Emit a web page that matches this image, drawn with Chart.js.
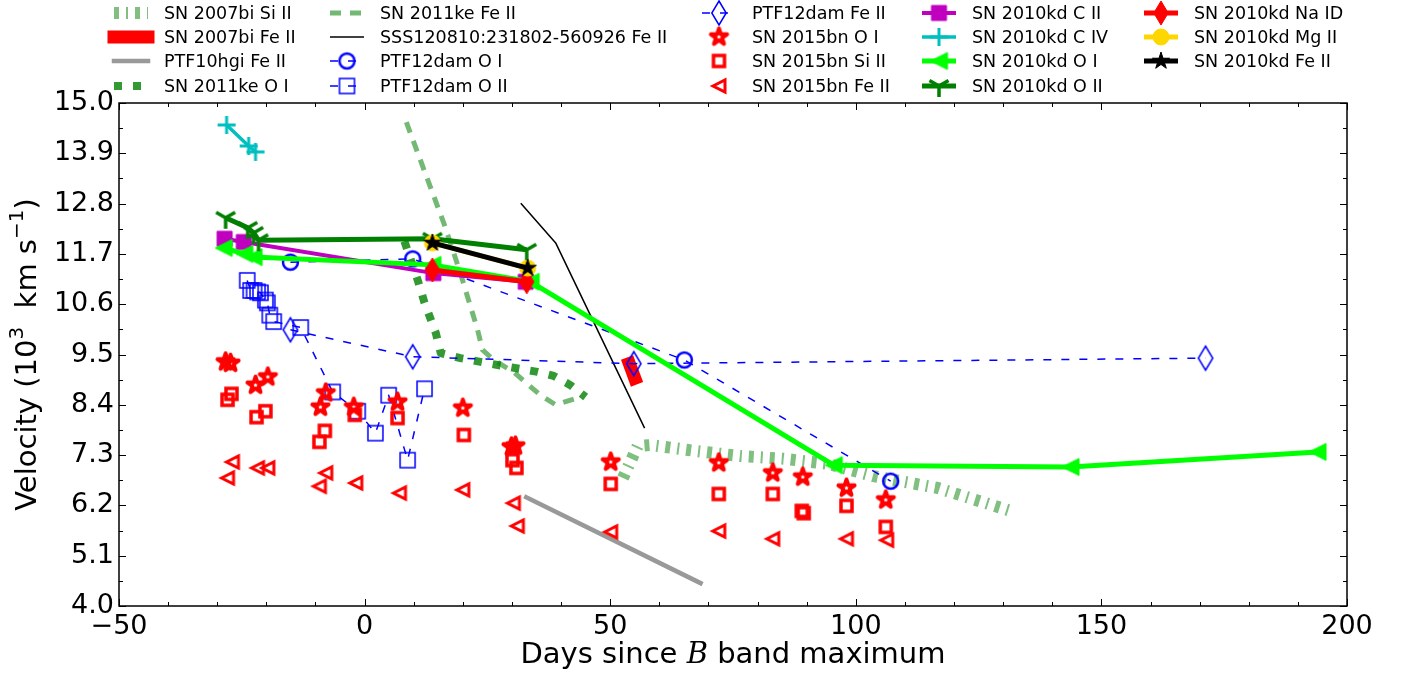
<!DOCTYPE html>
<html>
<head>
<meta charset="utf-8">
<script src="https://cdn.jsdelivr.net/npm/chart.js@4.4.0/dist/chart.umd.min.js"></script>
<style>
  html, body { margin: 0; padding: 0; background: #fff; }
</style>
</head>
<body>
<canvas id="c" width="1412" height="674"></canvas>
<script>
// Axes
const xTicks = [-50, 0, 50, 100, 150, 200];
const yTicks = [4.0, 5.1, 6.2, 7.3, 8.4, 9.5, 10.6, 11.7, 12.8, 13.9, 15.0];

// Data (days since B max, velocity in 10^3 km/s)
const sn07biSiDays = [52.6, 55.6, 58.2, 67.4, 76.5, 85.3, 94.3, 103.6, 116.7, 132.1];
const sn07biSiVel  = [6.80, 7.50, 7.52, 7.39, 7.28, 7.22, 7.11, 6.84, 6.58, 6.06];

const sn07biFeDays = [53.9, 55.0];
const sn07biFeVel  = [9.30, 8.98];

const ptf10hgiDays = [32.9, 68.4];
const ptf10hgiVel  = [6.38, 4.50];

const sn11keOIDays = [8.1, 10.8, 12.2, 14.5, 15.5, 19.5, 27.1, 35.2, 38.5, 41.9, 45.0];
const sn11keOIVel  = [11.98, 11.13, 10.63, 9.97, 9.53, 9.42, 9.27, 9.12, 9.03, 8.83, 8.57];

const sn11keFeDays = [8.5, 13.4, 16.1, 19.5, 23.0, 24.0, 26.3, 30.3, 35.8, 38.9, 43.4];
const sn11keFeVel  = [14.58, 13.16, 12.38, 11.28, 10.04, 9.60, 9.38, 9.12, 8.61, 8.40, 8.55];

const sssDays = [31.8, 38.9, 57.0];
const sssVel  = [12.81, 11.94, 7.89];

const ptf12OIDays = [-15.1, 9.8, 65.1, 107.1];
const ptf12OIVel  = [11.52, 11.59, 9.38, 6.73];

const ptf12OIIDays = [-23.9, -23.2, -22.5, -21.8, -21.2, -20.2, -19.8, -19.3, -18.5, -13.0, -6.5, -1.4, 2.2, 4.9, 8.75, 12.2];
const ptf12OIIVel  = [11.12, 10.90, 10.90, 10.87, 10.85, 10.69, 10.63, 10.36, 10.22, 10.09, 8.68, 8.26, 7.78, 8.61, 7.19, 8.75];

const ptf12FeDays = [-15.1, 9.8, 54.8, 171.2];
const ptf12FeVel  = [10.04, 9.45, 9.30, 9.42];

const bnOIDays = [-28.3, -27.3, -22.2, -19.7, -9.0, -7.9, -2.2, 6.7, 20.0, 29.9, 30.7, 50.1, 72.1, 83.1, 89.2, 98.1, 106.1];
const bnOIVel  = [9.34, 9.31, 8.83, 9.01, 8.35, 8.66, 8.35, 8.46, 8.33, 7.48, 7.50, 7.15, 7.13, 6.91, 6.82, 6.58, 6.32];

const bnSiDays = [-27.9, -27.1, -22.0, -20.2, -9.2, -8.1, -2.0, 6.7, 20.2, 30.1, 30.9, 50.1, 72.1, 83.1, 89.0, 89.4, 98.1, 106.1];
const bnSiVel  = [8.51, 8.64, 8.13, 8.26, 7.59, 7.83, 8.18, 8.11, 7.74, 7.19, 7.02, 6.67, 6.45, 6.45, 6.08, 6.03, 6.19, 5.73];

const bnFeDays = [-26.9, -27.9, -21.8, -19.7, -7.9, -9.2, -1.8, 7.1, 20.0, 30.3, 31.1, 50.1, 72.1, 83.1, 98.1, 106.3];
const bnFeVel  = [7.15, 6.80, 7.02, 7.02, 6.91, 6.62, 6.69, 6.47, 6.54, 6.25, 5.75, 5.62, 5.64, 5.47, 5.47, 5.44];

const kdCIIDays = [-28.5, -24.6, 14.0, 32.8];
const kdCIIVel  = [12.03, 11.96, 11.28, 11.09];

const kdCIVDays = [-28.1, -23.6, -22.2];
const kdCIVVel  = [14.52, 14.06, 13.93];

const kdOIDays = [-28.7, -24.5, -22.6, 13.8, 33.8, 95.5, 143.7, 194.0];
const kdOIVel  = [11.83, 11.70, 11.63, 11.46, 11.09, 7.08, 7.04, 7.37];

const kdOIIDays = [-28.3, -23.8, -22.6, -21.6, 13.8, 33.0];
const kdOIIVel  = [12.49, 12.27, 12.16, 12.00, 12.03, 11.79];

const kdNaDays = [13.8, 33.0];
const kdNaVel  = [11.35, 11.09];

const kdMgDays = [13.8, 33.2];
const kdMgVel  = [11.94, 11.39];

const kdFeDays = [13.8, 33.2];
const kdFeVel  = [11.94, 11.39];

// helpers
const pts = (xs, ys) => xs.map((x, i) => ({ x: x, y: ys[i] }));

// marker images, matplotlib-like shapes
function mk(shape, h, fill, stroke, lw, join) {
  const pad = Math.ceil(lw) + 2;
  const s = Math.ceil(2 * h + 2 * pad);
  const cv = document.createElement('canvas');
  cv.width = s; cv.height = s;
  const g = cv.getContext('2d');
  g.translate(s / 2, s / 2);
  g.lineWidth = lw;
  g.strokeStyle = stroke;
  g.fillStyle = fill;
  g.lineJoin = join || 'miter';
  g.beginPath();
  if (shape === 'circle') {
    g.arc(0, 0, h, 0, Math.PI * 2);
  } else if (shape === 'square') {
    g.rect(-h, -h, 2 * h, 2 * h);
  } else if (shape === 'diamond') {
    g.moveTo(0, -h); g.lineTo(0.6 * h, 0); g.lineTo(0, h); g.lineTo(-0.6 * h, 0); g.closePath();
  } else if (shape === 'star') {
    for (let k = 0; k < 10; k++) {
      const r = k % 2 === 0 ? h : h * 0.382;
      const a = -Math.PI / 2 + k * Math.PI / 5;
      const px = r * Math.cos(a), py = r * Math.sin(a);
      if (k === 0) g.moveTo(px, py); else g.lineTo(px, py);
    }
    g.closePath();
  } else if (shape === 'tleft') {
    g.moveTo(-h, 0); g.lineTo(h, -h); g.lineTo(h, h); g.closePath();
  } else if (shape === 'plus') {
    g.moveTo(-h, 0); g.lineTo(h, 0); g.moveTo(0, -h); g.lineTo(0, h);
  } else if (shape === 'tridown') {
    g.moveTo(0, 0); g.lineTo(0, h);
    g.moveTo(0, 0); g.lineTo(-0.866 * h, -0.5 * h);
    g.moveTo(0, 0); g.lineTo(0.866 * h, -0.5 * h);
  }
  if (fill !== 'none') g.fill();
  if (lw > 0) g.stroke();
  return cv;
}

const GREEN50 = 'rgba(0,128,0,0.5)';
const GREEN55 = 'rgba(0,128,0,0.55)';
const GREEN80 = 'rgba(0,128,0,0.8)';

function series(label, xs, ys, o) {
  return Object.assign({
    label: label,
    data: pts(xs, ys),
    showLine: true,
    borderColor: '#000',
    borderWidth: 2,
    borderDash: [],
    borderCapStyle: 'butt',
    borderJoinStyle: 'round',
    pointRadius: 0,
    pointHoverRadius: 0,
    fill: false,
    tension: 0
  }, o);
}

function withMarker(img) {
  return { pointStyle: img, pointRadius: 6, pointHoverRadius: 6 };
}

const datasets = [
  series('SN 2007bi Si II', sn07biSiDays, sn07biSiVel, { borderColor: GREEN50, borderWidth: 12, borderDash: [5, 7, 2, 7] }),
  series('SN 2007bi Fe II', sn07biFeDays, sn07biFeVel, { borderColor: '#ff0000', borderWidth: 13, borderCapStyle: 'square' }),
  series('PTF10hgi Fe II', ptf10hgiDays, ptf10hgiVel, { borderColor: '#999999', borderWidth: 4.5, borderCapStyle: 'square' }),
  series('SN 2011ke O I', sn11keOIDays, sn11keOIVel, { borderColor: GREEN80, borderWidth: 8, borderDash: [8, 11] }),
  series('SN 2011ke Fe II', sn11keFeDays, sn11keFeVel, { borderColor: GREEN55, borderWidth: 5, borderDash: [11, 9] }),
  series('SSS120810:231802-560926 Fe II', sssDays, sssVel, { borderColor: '#000000', borderWidth: 1.5 }),
  series('PTF12dam O I', ptf12OIDays, ptf12OIVel, Object.assign({ borderColor: '#0000ff', borderWidth: 1.5, borderDash: [8, 10] },
    withMarker(mk('circle', 7.5, 'none', '#0000ff', 2.5)))),
  series('PTF12dam O II', ptf12OIIDays, ptf12OIIVel, Object.assign({ borderColor: '#0000ff', borderWidth: 1.5, borderDash: [8, 10] },
    withMarker(mk('square', 7.5, 'none', '#0000ff', 1.5)))),
  series('PTF12dam Fe II', ptf12FeDays, ptf12FeVel, Object.assign({ borderColor: '#0000ff', borderWidth: 1.5, borderDash: [8, 10] },
    withMarker(mk('diamond', 12, 'none', '#0000ff', 1.5)))),
  series('SN 2015bn O I', bnOIDays, bnOIVel, Object.assign({ showLine: false, borderColor: '#ff0000' },
    withMarker(mk('star', 8.5, 'none', '#ff0000', 4, 'round')))),
  series('SN 2015bn Si II', bnSiDays, bnSiVel, Object.assign({ showLine: false, borderColor: '#ff0000' },
    withMarker(mk('square', 5.5, 'none', '#ff0000', 3.5)))),
  series('SN 2015bn Fe II', bnFeDays, bnFeVel, Object.assign({ showLine: false, borderColor: '#ff0000' },
    withMarker(mk('tleft', 6, 'none', '#ff0000', 3)))),
  series('SN 2010kd C II', kdCIIDays, kdCIIVel, Object.assign({ borderColor: '#bf00bf', borderWidth: 4 },
    withMarker(mk('square', 7.5, '#bf00bf', '#bf00bf', 1)))),
  series('SN 2010kd C IV', kdCIVDays, kdCIVVel, Object.assign({ borderColor: '#00bfbf', borderWidth: 3.5 },
    withMarker(mk('plus', 9, 'none', '#00bfbf', 3)))),
  series('SN 2010kd O I', kdOIDays, kdOIVel, Object.assign({ borderColor: '#00ff00', borderWidth: 5 },
    withMarker(mk('tleft', 8.5, '#00ff00', '#00ff00', 1)))),
  series('SN 2010kd O II', kdOIIDays, kdOIIVel, Object.assign({ borderColor: '#008000', borderWidth: 5 },
    withMarker(mk('tridown', 11, 'none', '#008000', 3.5)))),
  series('SN 2010kd Na ID', kdNaDays, kdNaVel, Object.assign({ borderColor: '#ff0000', borderWidth: 5 },
    withMarker(mk('diamond', 12, '#ff0000', '#ff0000', 1)))),
  series('SN 2010kd Mg II', kdMgDays, kdMgVel, Object.assign({ borderColor: '#ffd700', borderWidth: 5 },
    withMarker(mk('circle', 8, '#ffd700', '#ffd700', 1)))),
  series('SN 2010kd Fe II', kdFeDays, kdFeVel, Object.assign({ borderColor: '#000000', borderWidth: 5 },
    withMarker(mk('star', 9, '#000000', '#000000', 1))))
];
// later series on top, like matplotlib
datasets.forEach((d, i) => { d.order = -i; });

// inward ticks on all four sides + box
const framePlugin = {
  id: 'frame',
  afterDatasetsDraw(chart) {
    const { ctx, chartArea: a, scales: { x, y } } = chart;
    ctx.save();
    ctx.strokeStyle = '#000';
    ctx.lineWidth = 1;
    ctx.setLineDash([]);
    ctx.beginPath();
    for (let v = -50; v <= 200; v += 10) {
      const px = Math.round(x.getPixelForValue(v)) + 0.5;
      const len = xTicks.includes(v) ? 7 : 4;
      ctx.moveTo(px, a.bottom); ctx.lineTo(px, a.bottom - len);
      ctx.moveTo(px, a.top); ctx.lineTo(px, a.top + len);
    }
    for (let k = 0; k <= 20; k++) {
      const v = 4 + k * 0.55;
      const py = Math.round(y.getPixelForValue(v)) + 0.5;
      const len = k % 2 === 0 ? 7 : 4;
      ctx.moveTo(a.left, py); ctx.lineTo(a.left + len, py);
      ctx.moveTo(a.right, py); ctx.lineTo(a.right - len, py);
    }
    ctx.stroke();
    ctx.lineWidth = 1.5;
    ctx.strokeRect(a.left, a.top, a.right - a.left, a.bottom - a.top);
    ctx.restore();
  }
};

// legend (5 columns x 4 rows, column-major like matplotlib) and axis titles
const legendCols = [164, 380, 752, 972, 1194];
const legendRows = [13, 37, 61, 86];

const decorPlugin = {
  id: 'decor',
  afterDraw(chart) {
    const { ctx, chartArea: a } = chart;
    ctx.save();
    chart.data.datasets.forEach((ds, i) => {
      const tx = legendCols[Math.floor(i / 4)];
      const ty = legendRows[i % 4];
      const x0 = tx - 50, x1 = tx - 16;
      if (ds.showLine) {
        ctx.beginPath();
        ctx.strokeStyle = ds.borderColor;
        ctx.lineWidth = ds.borderWidth;
        ctx.setLineDash(ds.borderDash || []);
        ctx.lineCap = ds.borderCapStyle === 'square' ? 'square' : 'butt';
        ctx.moveTo(x0, ty); ctx.lineTo(x1, ty);
        ctx.stroke();
      }
      ctx.setLineDash([]);
      if (ds.pointStyle && ds.pointStyle.width) {
        const im = ds.pointStyle;
        ctx.drawImage(im, (x0 + x1) / 2 - im.width / 2, ty - im.height / 2);
      }
      ctx.fillStyle = '#000';
      ctx.font = '17.5px "DejaVu Sans"';
      ctx.textAlign = 'left';
      ctx.textBaseline = 'middle';
      ctx.fillText(ds.label, tx, ty + 1);
    });

    // x title: Days since B band maximum (B italic)
    const xt1 = 'Days since ', xtB = 'B', xt2 = ' band maximum';
    const fN = '29px "DejaVu Sans"', fI = 'italic 29px "DejaVu Serif"';
    ctx.font = fN; const w1 = ctx.measureText(xt1).width, w3 = ctx.measureText(xt2).width;
    ctx.font = fI; const w2 = ctx.measureText(xtB).width;
    let cx = (a.left + a.right) / 2 - (w1 + w2 + w3) / 2;
    const cy = 655;
    ctx.textAlign = 'left';
    ctx.textBaseline = 'middle';
    ctx.font = fN; ctx.fillText(xt1, cx, cy); cx += w1;
    ctx.font = fI; ctx.fillText(xtB, cx, cy); cx += w2;
    ctx.font = fN; ctx.fillText(xt2, cx, cy);

    // y title: Velocity (10^3  km s^-1)
    const parts = [
      { t: 'Velocity (10', sup: false },
      { t: '3', sup: true },
      { t: '  km s', sup: false },
      { t: '\u22121', sup: true },
      { t: ')', sup: false }
    ];
    const fBig = '29px "DejaVu Sans"', fSup = '20px "DejaVu Sans"';
    let total = 0;
    parts.forEach(p => { ctx.font = p.sup ? fSup : fBig; p.w = ctx.measureText(p.t).width; total += p.w; });
    ctx.translate(28, (a.top + a.bottom) / 2);
    ctx.rotate(-Math.PI / 2);
    let px = -total / 2;
    parts.forEach(p => {
      ctx.font = p.sup ? fSup : fBig;
      ctx.fillText(p.t, px, p.sup ? -10 : 0);
      px += p.w;
    });
    ctx.restore();
  }
};

new Chart(document.getElementById('c'), {
  type: 'scatter',
  data: { datasets: datasets },
  options: {
    responsive: false,
    animation: false,
    events: [],
    layout: { padding: { top: 103, right: 65, left: 0, bottom: 0 } },
    plugins: { legend: { display: false }, tooltip: { enabled: false } },
    scales: {
      x: {
        type: 'linear',
        min: -50, max: 200,
        afterBuildTicks: s => { s.ticks = xTicks.map(v => ({ value: v })); },
        afterFit: s => { s.height = 68; },
        grid: { display: false, drawTicks: false },
        border: { display: false },
        ticks: {
          padding: 5,
          color: '#000',
          font: { family: 'DejaVu Sans', size: 27 },
          maxRotation: 0,
          callback: v => (v < 0 ? '\u2212' + Math.abs(v) : String(v))
        }
      },
      y: {
        type: 'linear',
        min: 4.0, max: 15.0,
        afterBuildTicks: s => { s.ticks = yTicks.map(v => ({ value: v })); },
        afterFit: s => { s.width = 119; },
        grid: { display: false, drawTicks: false },
        border: { display: false },
        ticks: {
          padding: 5,
          color: '#000',
          font: { family: 'DejaVu Sans', size: 27 },
          callback: v => Number(v).toFixed(1)
        }
      }
    }
  },
  plugins: [framePlugin, decorPlugin]
});
</script>
</body>
</html>
